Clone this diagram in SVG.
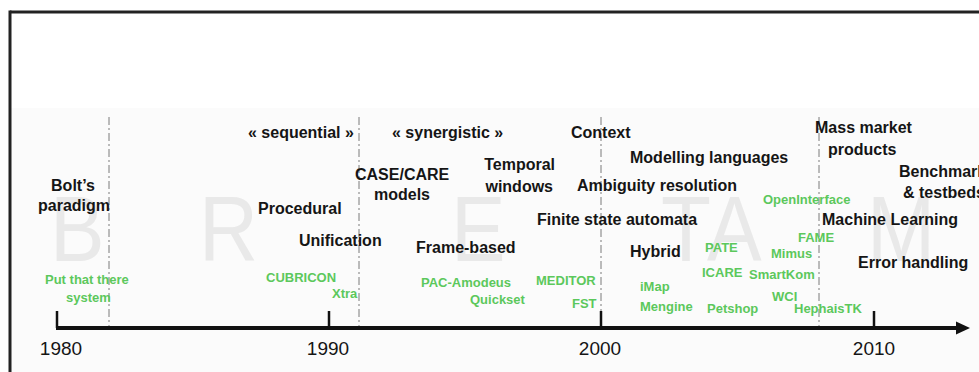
<svg xmlns="http://www.w3.org/2000/svg" width="979" height="372" viewBox="0 0 979 372">
<style>
.b{font-family:"Liberation Sans",Arial,sans-serif;font-weight:bold;font-size:16px;fill:#151515}
.g{font-family:"Liberation Sans",Arial,sans-serif;font-weight:bold;font-size:13px;fill:#5cc85c}
.y{font-family:"Liberation Sans",Arial,sans-serif;font-size:19px;fill:#151515;text-anchor:middle}
.w{font-family:"Liberation Sans",Arial,sans-serif;font-size:93px;fill:#e9e9e9}
.sep{stroke:#7a7a7a;stroke-width:1;stroke-dasharray:8 3 2 3;fill:none}
.tick{stroke:#111;stroke-width:2.5}
.m{text-anchor:middle}
.e{text-anchor:end}
</style>
<rect x="0" y="0" width="979" height="372" fill="#ffffff"/>
<rect x="11" y="108" width="968" height="264" fill="#fbfbfb"/>
<g id="frame" stroke="#222" stroke-width="3" fill="none">
<line x1="10" y1="12" x2="979" y2="12"/>
<line x1="10" y1="10.5" x2="10" y2="372"/>
</g>
<g id="watermark">
<text class="w" transform="translate(50,261) scale(0.88,1)">B</text>
<text class="w" transform="translate(199,261) scale(0.88,1)">R</text>
<text class="w" transform="translate(451,261) scale(0.88,1)">E</text>
<text class="w" transform="translate(661,261) scale(0.88,1)">T</text>
<text class="w" transform="translate(707,261) scale(0.88,1)">A</text>
<text class="w" transform="translate(867,261) scale(0.88,1)">M</text>
</g>
<g id="connectors">
<line class="sep" x1="109" y1="117" x2="109" y2="326"/>
<line class="sep" x1="359" y1="117" x2="359" y2="326"/>
<line class="sep" x1="601" y1="117" x2="601" y2="312"/>
<line class="sep" x1="819" y1="117" x2="819" y2="326"/>
<line x1="56" y1="328" x2="960" y2="328" stroke="#111" stroke-width="4"/>
<polygon points="956,321.5 970,328 956,334.5" fill="#111"/>
<line class="tick" x1="57" y1="311" x2="57" y2="328"/>
<line class="tick" x1="329" y1="311" x2="329" y2="328"/>
<line class="tick" x1="601" y1="311" x2="601" y2="328"/>
<line class="tick" x1="874" y1="311" x2="874" y2="328"/>
</g>
<g id="years">
<text class="y" x="61" y="355">1980</text>
<text class="y" x="328" y="355">1990</text>
<text class="y" x="600" y="355">2000</text>
<text class="y" x="874" y="355">2010</text>
</g>
<g id="n-sequential"><text class="b" x="248" y="138">« sequential »</text></g>
<g id="n-synergistic"><text class="b" x="392" y="138">« synergistic »</text></g>
<g id="n-context"><text class="b" x="571" y="138">Context</text></g>
<g id="n-bolt"><text class="b m" x="73" y="191">Bolt’s</text><text class="b m" x="74" y="211">paradigm</text></g>
<g id="n-procedural"><text class="b" x="258" y="214">Procedural</text></g>
<g id="n-unification"><text class="b" x="299" y="246">Unification</text></g>
<g id="n-casecare"><text class="b" x="355" y="180">CASE/CARE</text><text class="b" x="374" y="200">models</text></g>
<g id="n-temporal"><text class="b e" x="555" y="170">Temporal</text><text class="b e" x="553" y="192">windows</text></g>
<g id="n-modelling"><text class="b" x="630" y="163">Modelling languages</text></g>
<g id="n-ambiguity"><text class="b" x="577" y="191">Ambiguity resolution</text></g>
<g id="n-fsa"><text class="b" x="537" y="225">Finite state automata</text></g>
<g id="n-frame"><text class="b" x="416" y="253">Frame-based</text></g>
<g id="n-hybrid"><text class="b" x="630" y="257">Hybrid</text></g>
<g id="n-mass"><text class="b" x="815" y="133">Mass market</text><text class="b" x="828" y="155">products</text></g>
<g id="n-bench"><text class="b" x="899" y="177">Benchmark</text><text class="b" x="903" y="198">&amp; testbeds</text></g>
<g id="n-ml"><text class="b" x="822" y="225">Machine Learning</text></g>
<g id="n-error"><text class="b" x="858" y="268">Error handling</text></g>
<g id="s-putthat"><text class="g" x="45" y="284">Put that there</text><text class="g" x="66" y="302">system</text></g>
<g id="s-cubricon"><text class="g" x="266" y="282">CUBRICON</text></g>
<g id="s-xtra"><text class="g" x="332" y="298">Xtra</text></g>
<g id="s-pac"><text class="g" x="421" y="287">PAC-Amodeus</text></g>
<g id="s-quickset"><text class="g" x="470" y="304">Quickset</text></g>
<g id="s-meditor"><text class="g" x="536" y="285">MEDITOR</text></g>
<g id="s-fst"><text class="g" x="572" y="308">FST</text></g>
<g id="s-imap"><text class="g" x="640" y="291">iMap</text></g>
<g id="s-mengine"><text class="g" x="640" y="311">Mengine</text></g>
<g id="s-pate"><text class="g" x="705" y="252">PATE</text></g>
<g id="s-icare"><text class="g" x="702" y="277">ICARE</text></g>
<g id="s-petshop"><text class="g" x="707" y="313">Petshop</text></g>
<g id="s-openinterface"><text class="g" x="763" y="204">OpenInterface</text></g>
<g id="s-fame"><text class="g" x="798" y="242">FAME</text></g>
<g id="s-mimus"><text class="g" x="771" y="258">Mimus</text></g>
<g id="s-smartkom"><text class="g" x="749" y="279">SmartKom</text></g>
<g id="s-wci"><text class="g" x="772" y="301">WCI</text></g>
<g id="s-hephaistk"><text class="g" x="794" y="313">HephaisTK</text></g>
</svg>
